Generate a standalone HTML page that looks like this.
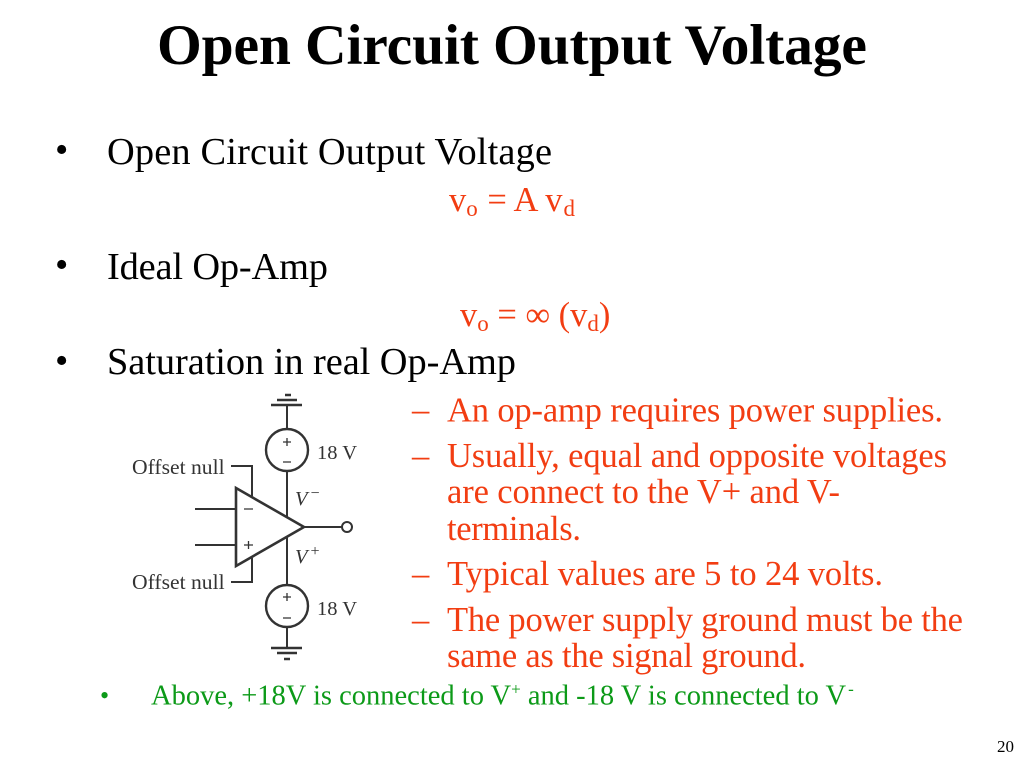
<!DOCTYPE html>
<html>
<head>
<meta charset="utf-8">
<style>
html,body{margin:0;padding:0;background:#fff;width:1024px;height:768px;overflow:hidden}
svg{display:block}
text{font-family:"Liberation Serif",serif}
.r{fill:#f23d12}
.g{fill:#0c9a18}
.d{fill:#333}
.l{stroke:#333;fill:none;stroke-width:2}
</style>
</head>
<body>
<svg width="1024" height="768" viewBox="0 0 1024 768" xmlns="http://www.w3.org/2000/svg">
<text x="157" y="64" font-size="57.6" font-weight="bold" textLength="710" lengthAdjust="spacing">Open Circuit Output Voltage</text>

<text x="55" y="162" font-size="38">•</text>
<text x="107" y="164" font-size="38.4" textLength="445" lengthAdjust="spacing">Open Circuit Output Voltage</text>
<text x="449" y="211" font-size="34.5" class="r">v<tspan font-size="23" dy="5">o</tspan><tspan dy="-5" dx="1"> = A v</tspan><tspan font-size="23" dy="5" dx="1">d</tspan></text>

<text x="55" y="277" font-size="38">•</text>
<text x="107" y="279" font-size="38.4" textLength="221" lengthAdjust="spacing">Ideal Op-Amp</text>
<text x="460" y="326" font-size="34.5" class="r">v<tspan font-size="23" dy="5">o</tspan><tspan dy="-5"> = ∞ (v</tspan><tspan font-size="23" dy="5">d</tspan><tspan dy="-5">)</tspan></text>

<text x="55" y="373" font-size="38">•</text>
<text x="107" y="374" font-size="38.4" textLength="409" lengthAdjust="spacing">Saturation in real Op-Amp</text>

<g font-size="34.5" class="r">
<text x="412" y="421">–</text>
<text x="447" y="421.500" textLength="496" lengthAdjust="spacing">An op-amp requires power supplies.</text>
<text x="412" y="467">–</text>
<text x="447" y="467" textLength="500" lengthAdjust="spacing">Usually, equal and opposite voltages</text>
<text x="447" y="503" textLength="393" lengthAdjust="spacing">are connect to the V+ and V-</text>
<text x="447" y="540" textLength="134" lengthAdjust="spacing">terminals.</text>
<text x="412" y="585">–</text>
<text x="447" y="585" textLength="436" lengthAdjust="spacing">Typical values are 5 to 24 volts.</text>
<text x="412" y="631">–</text>
<text x="447" y="631" textLength="516" lengthAdjust="spacing">The power supply ground must be the</text>
<text x="447" y="667" textLength="359" lengthAdjust="spacing">same as the signal ground.</text>
</g>

<text x="100" y="704" font-size="26" class="g">•</text>
<text x="151" y="704.500" font-size="28.5" class="g">Above, +18V is connected to V<tspan font-size="17" dy="-10">+</tspan><tspan dy="10"> and -18 V is connected to V</tspan><tspan font-size="17" dy="-10" dx="2">-</tspan></text>

<text x="997" y="752" font-size="17">20</text>

<!-- op-amp circuit -->
<g class="l">
<path d="M287 405V430M287 472V517M287 537V585M287 627V648"/>
<path d="M271 405H302M277 400H297M285 395H291" stroke-width="2.4"/>
<path d="M271 648H302M277 653H297M284 659H290" stroke-width="2.4"/>
<circle cx="287" cy="450" r="21" stroke-width="2.4"/>
<circle cx="287" cy="606" r="21" stroke-width="2.4"/>
<path d="M236 488L304 527L236 566Z" stroke-width="2.6" fill="#fff"/>
<path d="M304 527H342"/>
<circle cx="347" cy="527" r="5"/>
<path d="M195 509H236M195 545H236"/>
<path d="M231 466H252V496M231 582H252V558"/>
<g stroke-width="1.3">
<path d="M283 442H291M287 438V446M283 462H291M283 597H291M287 593V601M283 618H291"/>
<path d="M244 509H253M244 545H253M248.500 541V549"/>
</g>
</g>
<g class="d" font-size="20.5">
<text x="132" y="474" font-size="21.6">Offset null</text>
<text x="132" y="589" font-size="21.6">Offset null</text>
<text x="317" y="459">18 V</text>
<text x="317" y="615">18 V</text>
<text x="295" y="505" font-style="italic">V<tspan font-size="16" dy="-7" dx="2">−</tspan></text>
<text x="295" y="563" font-style="italic">V<tspan font-size="16" dy="-7" dx="2">+</tspan></text>
</g>
</svg>
</body>
</html>
